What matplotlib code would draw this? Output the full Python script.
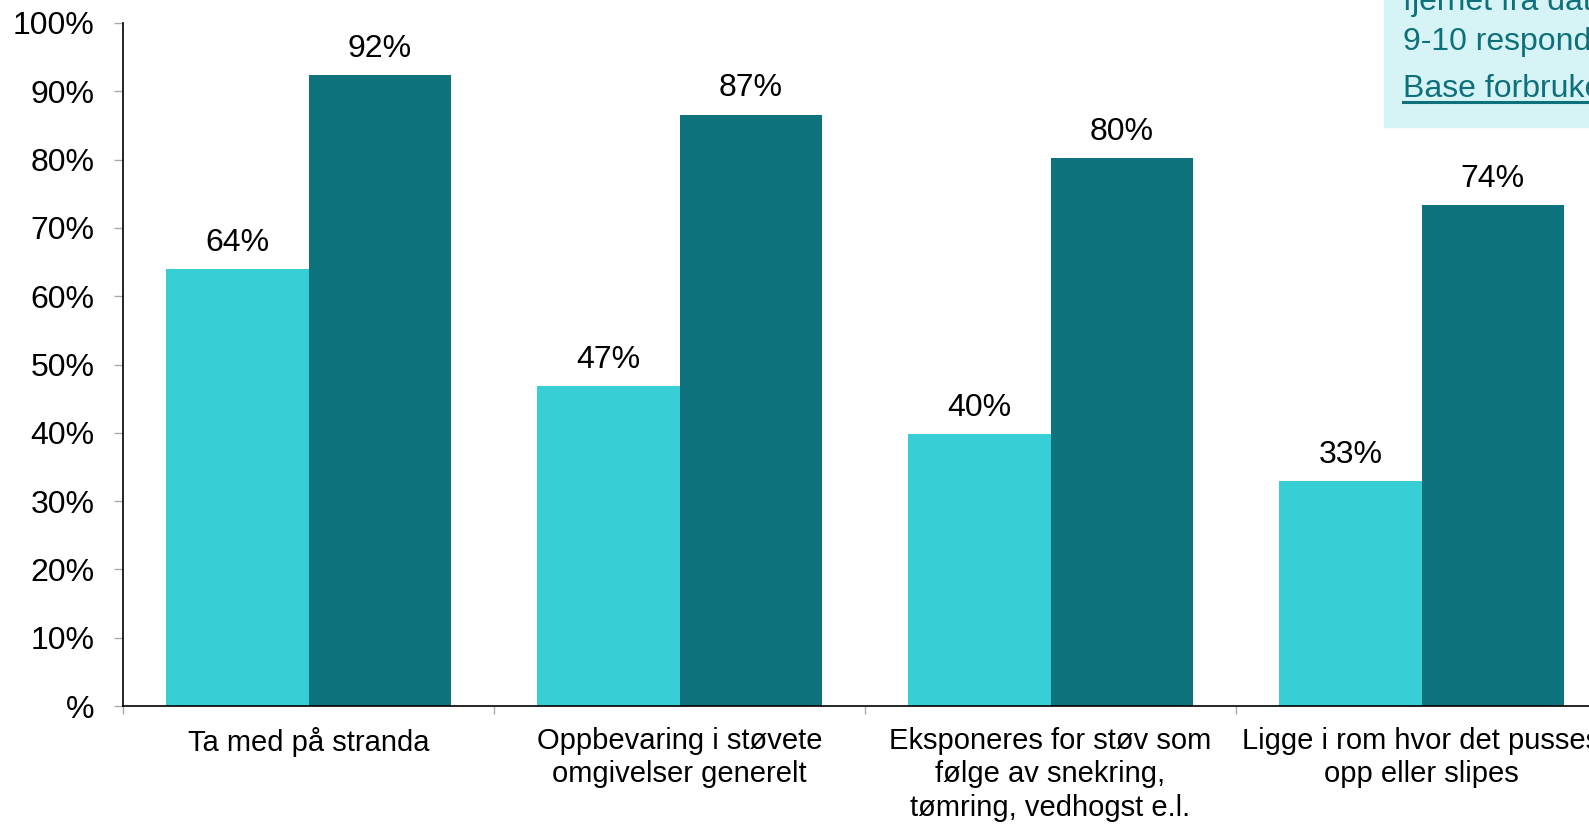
import numpy as np
import matplotlib
matplotlib.use('Agg')
import matplotlib.pyplot as plt
from matplotlib.patches import Rectangle
from matplotlib.lines import Line2D

plt.rcParams['font.family'] = ['Liberation Sans', 'DejaVu Sans']

categories = ['Ta med på stranda',
              'Oppbevaring i støvete\nomgivelser generelt',
              'Eksponeres for støv som\nfølge av snekring,\ntømring, vedhogst e.l.',
              'Ligge i rom hvor det pusses\nopp eller slipes']
series_a = [0.640, 0.469, 0.398, 0.329]
series_b = [0.924, 0.866, 0.802, 0.734]
labels_a = ['64%', '47%', '40%', '33%']
labels_b = ['92%', '87%', '80%', '74%']
ytick_vals = np.arange(0, 1.01, 0.1)
ytick_labels = ['%', '10%', '20%', '30%', '40%', '50%', '60%', '70%', '80%', '90%', '100%']
box_lines = ['fjernet fra datagrunnlaget.', '9-10 respondenter.']
box_link = 'Base forbrukere'

W, H = 1589, 825
fig = plt.figure(figsize=(W / 100, H / 100), dpi=100)
# axes runs past the right edge, like the cropped original
ax = fig.add_axes([123 / W, (H - 706) / H, 1484 / W, 683 / H])

x = np.arange(len(categories))
w = 0.383
cyan = '#38ced6'
teal = '#0e737c'
bars_a = ax.bar(x - w / 2, series_a, w, color=cyan)
bars_b = ax.bar(x + w / 2, series_b, w, color=teal)

for bars, labs in [(bars_a, labels_a), (bars_b, labels_b)]:
    for b, lab in zip(bars, labs):
        ax.annotate(lab, (b.get_x() + b.get_width() / 2, b.get_height()),
                    xytext=(0, 13), textcoords='offset points',
                    ha='center', va='baseline', fontsize=23, color='black')

ax.set_xlim(-0.5, len(categories) - 0.5)
ax.set_ylim(0, 1)
ax.set_yticks(ytick_vals)
ax.set_yticklabels(ytick_labels, fontsize=23)
ax.tick_params(axis='y', length=6.5, width=1, color='#aaaaaa', pad=14)

ax.set_xticks(x)
ax.set_xticklabels(categories, fontsize=21, linespacing=1.25)
ax.tick_params(axis='x', which='major', length=0, pad=15)
ax.set_xticks(np.arange(len(categories) + 1) - 0.5, minor=True)
ax.tick_params(axis='x', which='minor', length=6, width=1, color='#aaaaaa')

for s in ['top', 'right']:
    ax.spines[s].set_visible(False)
for s in ['left', 'bottom']:
    ax.spines[s].set_linewidth(1.2)
    ax.spines[s].set_color('black')

# note box in the top right corner (cut off in the original)
fig.patches.append(Rectangle((1384 / W, (H - 127) / H), 1, 1,
                             transform=fig.transFigure, color='#d6f4f6', zorder=0))
box_color = '#0e707a'
fig.text(1403 / W, (H - 10) / H, box_lines[0], fontsize=23, color=box_color, va='baseline')
fig.text(1403 / W, (H - 50) / H, box_lines[1], fontsize=23, color=box_color, va='baseline')
fig.text(1403 / W, (H - 97) / H, box_link, fontsize=23, color=box_color, va='baseline')
fig.lines.append(Line2D([1403 / W, 1.0], [(H - 102) / H] * 2, transform=fig.transFigure,
                        color=box_color, linewidth=2.2))

fig.savefig('out.png', dpi=100)
